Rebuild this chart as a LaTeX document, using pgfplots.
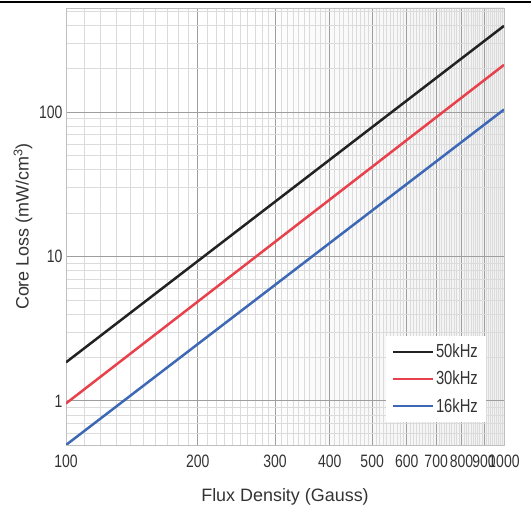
\documentclass[border=0pt]{standalone}
\usepackage{fontspec}
\setmainfont{Liberation Sans}
\newfontfamily\condfont[FakeStretch=0.78]{Liberation Sans}
\usepackage{pgfplots}
\pgfplotsset{compat=1.18}
\pgfdeclarehorizontalshading{bgshade}{100bp}{color(0bp)=(white); color(45bp)=(white); color(100bp)=(black!10)}
\definecolor{lblack}{HTML}{222222}
\definecolor{lred}{HTML}{E8414C}
\definecolor{lblue}{HTML}{3D68B5}
\definecolor{txt}{HTML}{333333}
\begin{document}
\begin{tikzpicture}
\begin{loglogaxis}[
  scale only axis, width=438bp, height=437bp,
  xmin=100, xmax=1000, ymin=0.495, ymax=525,
  xtick={100,200,300,400,500,600,700,800,900,1000},
  xticklabels={100,200,300,400,500,600,700,800,900,1000},
  ytick={1,10,100}, yticklabels={1,10,100},
  minor xtick={110,120,130,140,150,160,170,180,190,210,220,230,240,250,260,270,280,290,310,320,330,340,350,360,370,380,390,410,420,430,440,450,460,470,480,490,510,520,530,540,550,560,570,580,590,610,620,630,640,650,660,670,680,690,710,720,730,740,750,760,770,780,790,810,820,830,840,850,860,870,880,890,910,920,930,940,950,960,970,980,990},
  minor ytick={0.6,0.7,0.8,0.9,2,3,4,5,6,7,8,9,20,30,40,50,60,70,80,90,200,300,400,500},
  grid=both,
  major grid style={draw=black!38, line width=0.9pt},
  minor grid style={draw=black!14, line width=0.6pt},
  axis line style={draw=black!25, line width=0.8pt},
  tick style={draw=none},
  ticklabel style={font=\condfont\fontsize{18}{18}\selectfont, text=txt},
  xticklabel style={yshift=-6bp},
  label style={font=\fontsize{18}{18}\selectfont, text=txt},
  xlabel style={yshift=-14bp},
  xlabel={Flux Density (Gauss)},
  ylabel={Core Loss (mW/cm\textsuperscript{3})},
  axis background/.style={shading=bgshade},
  legend style={at={(0.959,0.053)}, anchor=south east, draw=none, fill=white,
    font=\condfont\fontsize{19}{19}\selectfont, text=txt, row sep=8bp, inner sep=6bp},
  legend cell align=left,
  legend image code/.code={\draw[#1,line width=2.2pt] (0bp,0bp) -- (40bp,0bp);},
  clip=true,
]
\addplot[lblack, line width=2.5pt] coordinates {(100,1.85) (1000,395)};
\addlegendentry{50kHz}
\addplot[lred, line width=2.5pt] coordinates {(100,0.96) (1000,212)};
\addlegendentry{30kHz}
\addplot[lblue, line width=2.5pt] coordinates {(100,0.495) (1000,104)};
\addlegendentry{16kHz}
\end{loglogaxis}
\draw[black, line width=1.6pt] ([shift={(-66bp,6bp)}]current axis.north west) -- ([shift={(27bp,6bp)}]current axis.north east);
\pgfresetboundingbox
\path ([shift={(-66bp,-63bp)}]current axis.south west) rectangle ([shift={(27bp,8bp)}]current axis.north east);
\end{tikzpicture}
\end{document}
